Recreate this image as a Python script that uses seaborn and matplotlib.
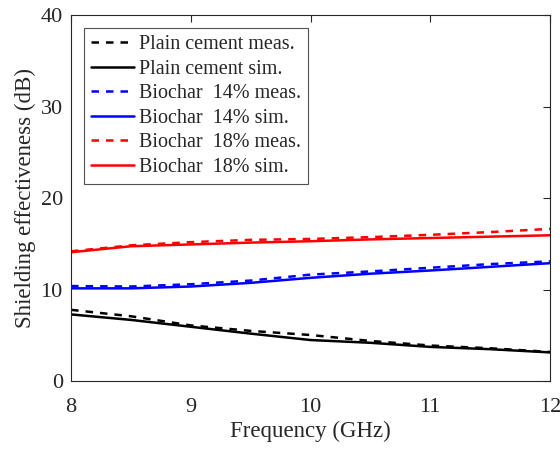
import numpy as np
import pandas as pd
import matplotlib
matplotlib.use("Agg")
import matplotlib.pyplot as plt
import seaborn as sns

freq = [8.0, 8.5, 9.0, 9.5, 10.0, 10.5, 11.0, 11.5, 12.0]
plain_meas = [7.8, 7.1, 6.1, 5.5, 5.05, 4.4, 3.9, 3.6, 3.2]
plain_sim = [7.3, 6.7, 5.95, 5.2, 4.5, 4.2, 3.75, 3.5, 3.15]
b14_meas = [10.4, 10.35, 10.6, 11.0, 11.65, 12.0, 12.4, 12.8, 13.1]
b14_sim = [10.15, 10.15, 10.35, 10.75, 11.3, 11.75, 12.1, 12.5, 12.9]
b18_meas = [14.2, 14.85, 15.2, 15.45, 15.55, 15.75, 16.0, 16.3, 16.65]
b18_sim = [14.1, 14.75, 14.95, 15.15, 15.3, 15.5, 15.65, 15.8, 15.95]

labels = ["Plain cement meas.", "Plain cement sim.",
          "Biochar  14% meas.", "Biochar  14% sim.",
          "Biochar  18% meas.", "Biochar  18% sim."]
series = [plain_meas, plain_sim, b14_meas, b14_sim, b18_meas, b18_sim]
colors = ["black", "black", "#0000ff", "#0000ff", "#ff0000", "#ff0000"]
styles = [(0, (3.0, 2.8)), "-", (0, (3.0, 2.8)), "-", (0, (3.0, 2.8)), "-"]

sns.set_style("white")
plt.rcParams["font.family"] = ["Liberation Serif", "DejaVu Serif"]

fig = plt.figure(figsize=(5.6, 4.49), dpi=100)
ax = fig.add_axes([0.127, 0.151, 0.855, 0.815])

for lab, vals, c, ls in zip(labels, series, colors, styles):
    df = pd.DataFrame({"f": freq, "se": vals})
    sns.lineplot(data=df, x="f", y="se", ax=ax, color=c, linestyle=ls,
                 linewidth=1.8, label=lab)

ax.set_xlim(8, 12)
ax.set_ylim(0, 40)
ax.set_xticks([8, 9, 10, 11, 12])
ax.set_yticks([0, 10, 20, 30, 40])
ax.set_xlabel("Frequency (GHz)", fontsize=16.5, color="#262626", labelpad=3)
ax.set_ylabel("Shielding effectiveness (dB)", fontsize=16.5, color="#262626",
              labelpad=3)
ax.tick_params(direction="in", top=True, right=True, length=5, width=0.8,
               labelsize=16, colors="#262626")
ax.tick_params(axis="x", pad=12)
ax.tick_params(axis="y", pad=6)
for s in ax.spines.values():
    s.set_visible(True)
    s.set_color("#262626")
    s.set_linewidth(0.8)

leg = ax.legend(loc="upper left", bbox_to_anchor=(0.026, 0.965), fontsize=14.5,
                frameon=True, fancybox=False, edgecolor="#262626",
                handlelength=2.15, handletextpad=0.25, labelspacing=0.27,
                borderpad=0.35, borderaxespad=0.0)
leg.get_frame().set_linewidth(0.8)

fig.savefig("out.png", dpi=100)
